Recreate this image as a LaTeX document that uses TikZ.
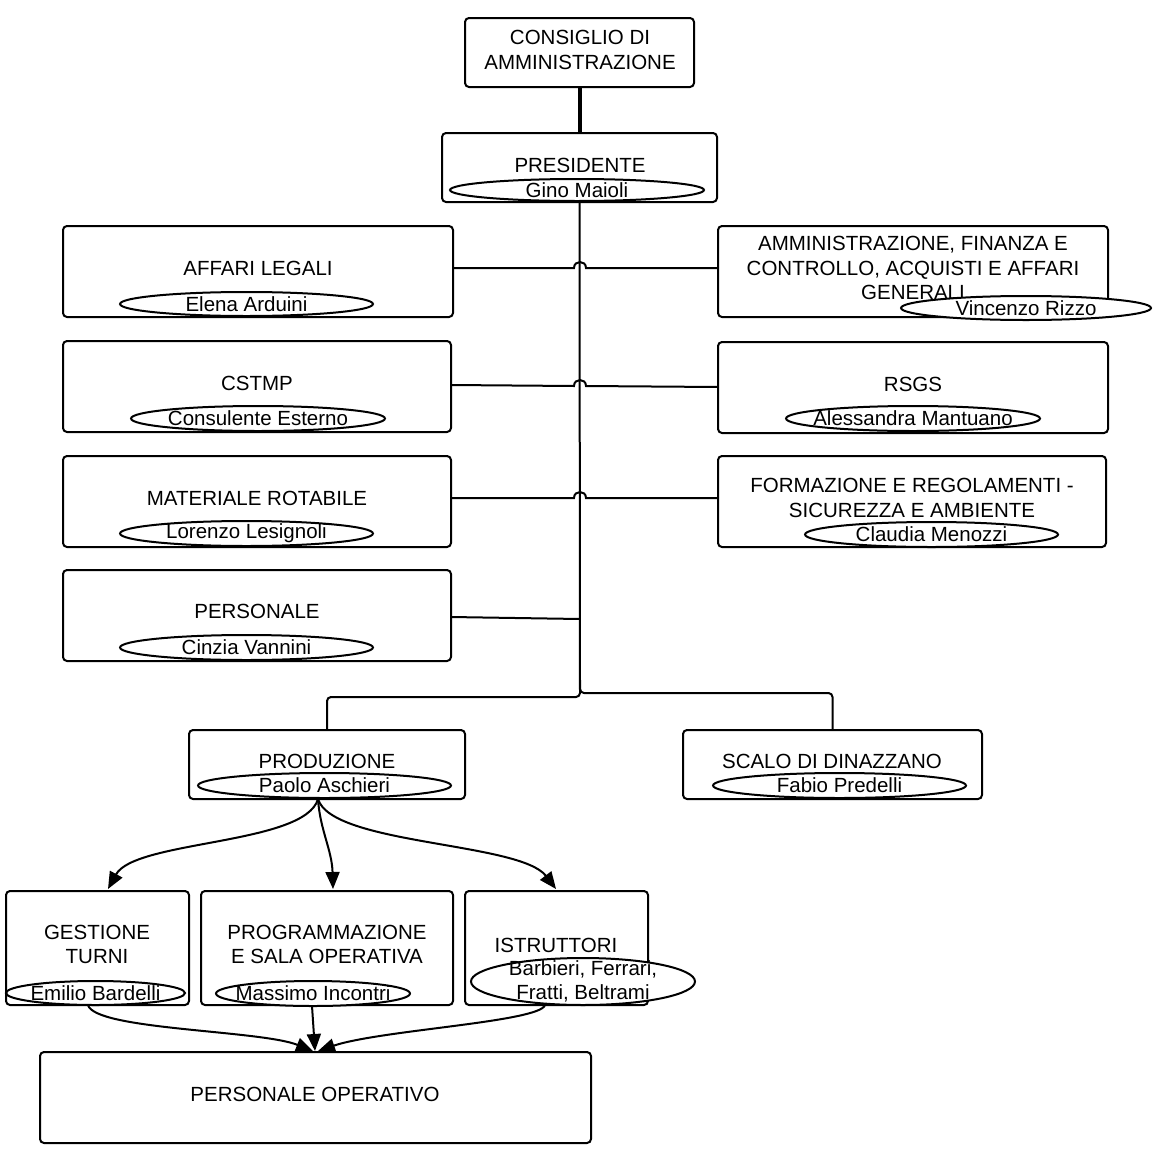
\documentclass[tikz,border=0pt]{standalone}
\usepackage{fontspec}
\setmainfont{Liberation Sans}
\usetikzlibrary{arrows.meta,shapes.geometric}
\newcommand\orgfont{\fontsize{20.5}{24.5}\selectfont}
\begin{document}
\begin{tikzpicture}[x=1pt,y=-1pt,
  box/.style={draw,line width=2pt,rounded corners=4pt,inner sep=0pt,outer sep=0pt},
  pill/.style={draw,ellipse,fill=white,line width=2pt,inner sep=0pt,outer sep=0pt},
  lbl/.style={font=\orgfont,align=center,inner sep=0pt},
  conn/.style={line width=2pt},
  arr/.style={line width=2pt,-{Triangle[length=17pt,width=14pt]}},
]
\useasboundingbox (0,0) rectangle (1153,1167);

% boxes
\node[box,minimum width=229pt,minimum height=69pt] (cda) at (579.5,52.5) {};
\node[box,minimum width=275pt,minimum height=69pt] (pres) at (579.5,167.5) {};
\node[box,minimum width=390pt,minimum height=91pt] (leg) at (258,271.5) {};
\node[box,minimum width=390pt,minimum height=91pt] (amm) at (913,271.5) {};
\node[box,minimum width=388pt,minimum height=91pt] (cst) at (257,386.5) {};
\node[box,minimum width=390pt,minimum height=91pt] (rsgs) at (913,387.5) {};
\node[box,minimum width=388pt,minimum height=91pt] (mat) at (257,501.5) {};
\node[box,minimum width=388pt,minimum height=91pt] (form) at (912,501.5) {};
\node[box,minimum width=388pt,minimum height=91pt] (pers) at (257,615.5) {};
\node[box,minimum width=276pt,minimum height=69pt] (prod) at (327,764.5) {};
\node[box,minimum width=299pt,minimum height=69pt] (scalo) at (832.5,764.5) {};
\node[box,minimum width=183pt,minimum height=114pt] (gest) at (97.5,948) {};
\node[box,minimum width=252pt,minimum height=114pt] (prog) at (327,948) {};
\node[box,minimum width=183pt,minimum height=114pt] (istr) at (556.5,948) {};
\node[box,minimum width=551pt,minimum height=91pt] (po) at (315.5,1097.5) {};

% connectors
\draw[line width=4pt] (cda.south) -- (pres.north);
\draw[conn,rounded corners=4pt] (pres.south) -- (580,697) -| (prod.north);
\draw[conn,rounded corners=4pt] (580,680) -- (580,693) -| (scalo.north);
\draw[conn] ([yshift=3.5pt]leg.east) -- (574,268) .. controls (574,260) and (586,260) .. (586,268) -- ([yshift=3.5pt]amm.west);
\draw[conn] ([yshift=1.5pt]cst.east) -- (574,386) .. controls (574,378) and (586,378) .. (586,386) -- ([yshift=0.5pt]rsgs.west);
\draw[conn] ([yshift=3.5pt]mat.east) -- (574,498) .. controls (574,490) and (586,490) .. (586,498) -- ([yshift=3.5pt]form.west);
\coordinate (tp) at (580,619);
\draw[conn] ([yshift=-1.5pt]pers.east) -- (tp);

\coordinate (ps) at (318,799);
\draw[arr] (ps) .. controls (305,845) and (135,840) .. (108,889);
\draw[arr] (ps) .. controls (320,830) and (332,850) .. (333,889);
\draw[arr] (ps) .. controls (332,845) and (520,842) .. (556,889);

\coordinate (g0) at (88,1005);
\coordinate (p0) at (312,1006);
\coordinate (i0) at (545,1005);
\draw[arr] (g0) .. controls (95,1030) and (260,1030) .. (313,1051);
\draw[arr] (p0) -- (315,1051);
\draw[arr] (i0) .. controls (540,1022) and (380,1030) .. (318,1051);

% box labels
\node[lbl] (tcda) at (580,50) {CONSIGLIO DI\\AMMINISTRAZIONE};
\node[lbl] (tpres) at (580,165) {PRESIDENTE};
\node[lbl] (tleg) at (258,268) {AFFARI LEGALI};
\node[lbl] (tamm) at (913,268) {AMMINISTRAZIONE, FINANZA E\\CONTROLLO, ACQUISTI E AFFARI\\GENERALI};
\node[lbl] (tcst) at (257,383) {CSTMP};
\node[lbl] (trsgs) at (913,384) {RSGS};
\node[lbl] (tmat) at (257,498) {MATERIALE ROTABILE};
\node[lbl] (tform) at (912,498) {FORMAZIONE E REGOLAMENTI -\\SICUREZZA E AMBIENTE};
\node[lbl] (tpers) at (257,611) {PERSONALE};
\node[lbl] (tprod) at (327,761) {PRODUZIONE};
\node[lbl] (tscalo) at (832,761) {SCALO DI DINAZZANO};
\node[lbl] (tgest) at (97,944.5) {GESTIONE\\TURNI};
\node[lbl] (tprog) at (327,944.5) {PROGRAMMAZIONE\\E SALA OPERATIVA};
\node[lbl] (tistr) at (556,945) {ISTRUTTORI};
\node[lbl] (tpo) at (315,1094) {PERSONALE OPERATIVO};

% name ellipses
\node[pill,minimum width=254pt,minimum height=22pt] (epres) at (577,190) {};
\node[pill,minimum width=253pt,minimum height=24pt] (eleg) at (246.5,304) {};
\node[pill,minimum width=250pt,minimum height=24pt] (eamm) at (1026,308) {};
\node[pill,minimum width=254pt,minimum height=25pt] (ecst) at (258,418.5) {};
\node[pill,minimum width=254pt,minimum height=25pt] (ersgs) at (913,418.5) {};
\node[pill,minimum width=253pt,minimum height=25pt] (emat) at (246.5,533.5) {};
\node[pill,minimum width=253pt,minimum height=25pt] (eform) at (931.5,534.5) {};
\node[pill,minimum width=253pt,minimum height=25pt] (epers) at (246.5,647.5) {};
\node[pill,minimum width=253pt,minimum height=25pt] (eprod) at (324.5,785.5) {};
\node[pill,minimum width=253pt,minimum height=25pt] (escalo) at (839.5,785.5) {};
\node[pill,minimum width=179pt,minimum height=24pt] (egest) at (95.5,993) {};
\node[pill,minimum width=194pt,minimum height=25pt] (eprog) at (313,993.5) {};
\node[pill,minimum width=224pt,minimum height=47pt] (eistr) at (583,981.5) {};

\node[lbl] (npres) at (epres) {Gino Maioli};
\node[lbl] (nleg) at (eleg) {Elena Arduini};
\node[lbl] (namm) at (eamm) {Vincenzo Rizzo};
\node[lbl] (ncst) at (ecst) {Consulente Esterno};
\node[lbl] (nrsgs) at (ersgs) {Alessandra Mantuano};
\node[lbl] (nmat) at (emat) {Lorenzo Lesignoli};
\node[lbl] (nform) at (eform) {Claudia Menozzi};
\node[lbl] (npers) at (epers) {Cinzia Vannini};
\node[lbl] (nprod) at (eprod) {Paolo Aschieri};
\node[lbl] (nscalo) at (escalo) {Fabio Predelli};
\node[lbl] (ngest) at (egest) {Emilio Bardelli};
\node[lbl] (nprog) at (eprog) {Massimo Incontri};
\node[lbl] (nistr) at (eistr) {Barbieri, Ferrari,\\Fratti, Beltrami};
\end{tikzpicture}
\end{document}
